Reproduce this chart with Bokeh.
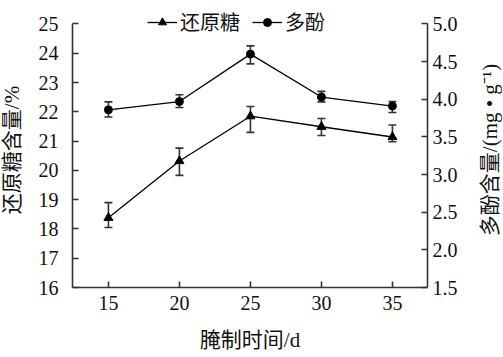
from bokeh.plotting import figure
from bokeh.layouts import row
from bokeh.models import (Range1d, LinearAxis, Whisker, TeeHead, ColumnDataSource,
                          Legend, LegendItem, FixedTicker, NumeralTickFormatter)
from bokeh.embed import file_html
from bokeh.resources import INLINE

# ---- data ----
days = [15, 20, 25, 30, 35]
sugar = [18.38, 20.32, 21.85, 21.49, 21.14]
sugar_upper = [18.90, 20.76, 22.18, 21.77, 21.55]
sugar_lower = [18.05, 19.83, 21.30, 21.19, 20.98]
poly = [3.86, 3.97, 4.60, 4.03, 3.91]
poly_upper = [3.965, 4.06, 4.71, 4.105, 3.97]
poly_lower = [3.765, 3.89, 4.47, 3.965, 3.825]
x_ticks = [15, 20, 25, 30, 35]
left_ticks = [16, 17, 18, 19, 20, 21, 22, 23, 24, 25]
right_ticks = [1.5, 2.0, 2.5, 3.0, 3.5, 4.0, 4.5, 5.0]

FONT = "'Liberation Serif', 'Noto Sans CJK SC'"
AX = "#333333"
TXT = "#111111"

H = 357
LW, RW = 27, 30                    # companion strips carrying the y-axis titles
W = 503 - LW - RW
BL, BR, BB = 72 - LW, 46, 70
AXIS_TOP = 12                      # pixel row where the axes end (value 25 / 5.0)
frame_h = H - BB                   # frame runs from the very top so the legend fits
plot_h = frame_h - AXIS_TOP
left_lo, left_hi = 16, 25
right_lo, right_hi = 1.5, 5.0
left_top = left_hi + (left_hi - left_lo) * AXIS_TOP / plot_h
right_top = right_hi + (right_hi - right_lo) * AXIS_TOP / plot_h

p = figure(width=W, height=H, output_backend="svg", toolbar_location=None,
           x_range=Range1d(12.47, 37.47), y_range=Range1d(left_lo, left_top),
           min_border_left=BL, min_border_right=BR, min_border_top=0, min_border_bottom=BB)
p.extra_y_ranges = {"right": Range1d(right_lo, right_top)}
p.outline_line_color = None
p.xgrid.visible = False
p.ygrid.visible = False

def style_axis(ax):
    ax.axis_line_color = AX
    ax.axis_line_width = 1.6
    ax.major_tick_line_color = AX
    ax.major_tick_line_width = 1.6
    ax.major_tick_in = 6
    ax.major_tick_out = 0
    ax.minor_tick_line_color = None
    ax.major_label_text_font = FONT
    ax.major_label_text_font_size = "20px"
    ax.major_label_text_color = TXT
    ax.axis_label_text_font = FONT
    ax.axis_label_text_font_size = "21px"
    ax.axis_label_text_font_style = "normal"
    ax.axis_label_text_color = TXT

xa = p.xaxis[0]
style_axis(xa)
xa.ticker = FixedTicker(ticks=x_ticks)
xa.axis_label = "腌制时间/d"
xa.major_label_standoff = 8
xa.axis_label_standoff = 15

ya = p.yaxis[0]
style_axis(ya)
ya.ticker = FixedTicker(ticks=left_ticks)
ya.bounds = (left_lo, left_hi)
ya.major_label_standoff = 14

ra = LinearAxis(y_range_name="right", bounds=(right_lo, right_hi))
style_axis(ra)
ra.ticker = FixedTicker(ticks=right_ticks)
ra.formatter = NumeralTickFormatter(format="0.0")
ra.major_label_standoff = 5
p.add_layout(ra, "right")

s_src = ColumnDataSource(dict(x=days, y=sugar, up=sugar_upper, lo=sugar_lower))
p_src = ColumnDataSource(dict(x=days, y=poly, up=poly_upper, lo=poly_lower))

for src, rng in ((s_src, "default"), (p_src, "right")):
    w = Whisker(source=src, base="x", upper="up", lower="lo", y_range_name=rng,
                line_color=AX, line_width=1.6,
                upper_head=TeeHead(size=8, line_color=AX, line_width=1.6),
                lower_head=TeeHead(size=8, line_color=AX, line_width=1.6))
    p.add_layout(w)

l1 = p.line("x", "y", source=s_src, line_color="black", line_width=1.3)
m1 = p.scatter("x", "y", source=s_src, marker="triangle", size=9,
               fill_color="black", line_color="black")
l2 = p.line("x", "y", source=p_src, line_color="black", line_width=1.3, y_range_name="right")
m2 = p.scatter("x", "y", source=p_src, marker="circle", size=8,
               fill_color="black", line_color="black", y_range_name="right")

LEG_PAD = 8
legend = Legend(items=[LegendItem(label="还原糖", renderers=[l1, m1]),
                       LegendItem(label="多酚", renderers=[l2, m2])],
                orientation="horizontal", location=(83 - LEG_PAD, frame_h - 36),
                padding=LEG_PAD, margin=0, spacing=12, glyph_width=30, glyph_height=20,
                label_standoff=3, label_height=20, border_line_color=None,
                background_fill_alpha=0,
                label_text_font=FONT, label_text_font_size="20px", label_text_color=TXT)
p.add_layout(legend, "center")

def title_strip(width, text, border_left, border_right, standoff):
    f = figure(width=width, height=H, output_backend="svg", toolbar_location=None,
               x_range=Range1d(0, 1), y_range=Range1d(0, 1),
               min_border_left=border_left, min_border_right=border_right,
               min_border_top=AXIS_TOP, min_border_bottom=BB)
    f.outline_line_color = None
    f.xgrid.visible = False
    f.ygrid.visible = False
    f.xaxis.visible = False
    a = f.yaxis[0]
    a.ticker = FixedTicker(ticks=[])
    a.axis_line_color = None
    a.major_tick_line_color = None
    a.minor_tick_line_color = None
    a.axis_label = text
    a.axis_label_standoff = standoff
    a.axis_label_text_font = FONT
    a.axis_label_text_font_size = "21px"
    a.axis_label_text_font_style = "normal"
    a.axis_label_text_color = TXT
    return f

lft = title_strip(LW, "还原糖含量/%", LW - 1, 0, 4)
rgt = title_strip(RW, "多酚含量/(mg • g⁻¹)", RW - 2, 0, 0)

layout = row(lft, p, rgt, spacing=0)
open("out.html", "w").write(file_html(layout, INLINE))
